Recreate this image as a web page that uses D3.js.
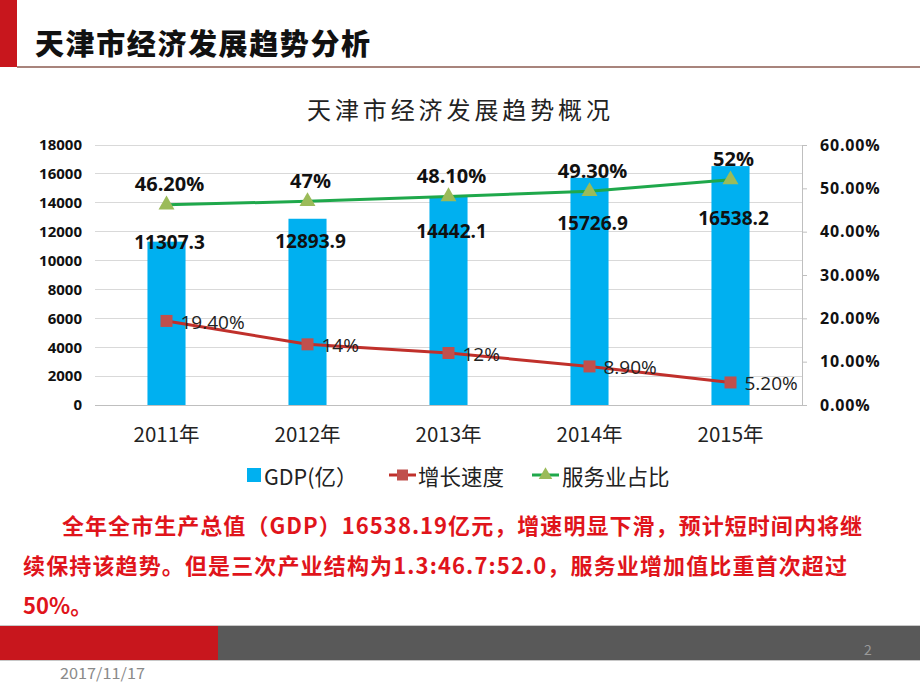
<!DOCTYPE html>
<html><head><meta charset="utf-8">
<script src="https://cdn.jsdelivr.net/npm/d3@7"></script>
<style>body{margin:0;background:#fff}svg{display:block}</style>
</head><body><svg id="c" width="920" height="690"></svg>
<script>
const categories = ["2011年","2012年","2013年","2014年","2015年"];
const gdp = [11307.3, 12893.9, 14442.1, 15726.9, 16538.2];
const gdpLabels = ["11307.3","12893.9","14442.1","15726.9","16538.2"];
const growth = [19.4, 14, 12, 8.9, 5.2];
const growthLabels = ["19.40%","14%","12%","8.90%","5.20%"];
const service = [46.2, 47, 48.1, 49.3, 52];
const serviceLabels = ["46.20%","47%","48.10%","49.30%","52%"];
const leftTicks = [0,2000,4000,6000,8000,10000,12000,14000,16000,18000];
const rightTicks = [0,10,20,30,40,50,60];
const seriesNames = ["GDP(亿）","增长速度","服务业占比"];
const pageTitle = "天津市经济发展趋势分析";
const chartTitle = "天津市经济发展趋势概况";
const para = ["全年全市生产总值（GDP）16538.19亿元，增速明显下滑，预计短时间内将继",
              "续保持该趋势。但是三次产业结构为1.3:46.7:52.0，服务业增加值比重首次超过",
              "50%。"];
const dateText = "2017/11/17", pageNo = "2";

// layout constants (not data)
const gdpLabelOffset = [0, 22, 35, 45, 52];
const CJK = "'Noto Sans CJK SC','Noto Sans',sans-serif";
const NUM = "'Open Sans','Noto Sans',sans-serif";

const svg = d3.select("#c");
// header
svg.append("rect").attr("x",0).attr("y",0).attr("width",17).attr("height",67).attr("fill","#c8161d");
svg.append("rect").attr("x",17).attr("y",66).attr("width",903).attr("height",2).attr("fill","#a8847c");
svg.append("text").attr("x",35).attr("y",42).attr("dominant-baseline","central")
  .attr("font-family",CJK).attr("font-weight",900).attr("font-size",29)
  .attr("textLength",335).attr("lengthAdjust","spacing").attr("fill","#111").text(pageTitle);
svg.append("text").attr("x",307).attr("y",108).attr("dominant-baseline","central")
  .attr("font-family",CJK).attr("font-weight",400).attr("font-size",24)
  .attr("textLength",303).attr("lengthAdjust","spacing").attr("fill","#222").text(chartTitle);

const x = d3.scaleBand().domain(categories).range([96,801]).paddingInner(0.73).paddingOuter(0.365);
const xc = d => x(d) + x.bandwidth()/2;
const yL = d3.scaleLinear().domain([0,18000]).range([405,145]);
const yR = d3.scaleLinear().domain([0,60]).range([405,145]);

// gridlines
svg.append("g").selectAll("line").data(leftTicks).join("line")
  .attr("x1",95).attr("x2",802).attr("y1",d=>yL(d)).attr("y2",d=>yL(d))
  .attr("stroke",d=>d===0?"#bfbfbf":"#d9d9d9").attr("stroke-width",1).attr("shape-rendering","crispEdges");

// left axis
const gL = svg.append("g").attr("transform","translate(82,0)")
  .call(d3.axisLeft(yL).tickValues(leftTicks).tickSize(0).tickPadding(0).tickFormat(d3.format("d")));
gL.select(".domain").remove();
gL.selectAll("text").attr("font-family",NUM).attr("font-weight",700).attr("font-size",15).attr("fill","#111");

// right axis
const gR = svg.append("g").attr("transform","translate(802,0)")
  .call(d3.axisRight(yR).tickValues(rightTicks).tickSizeInner(5).tickSizeOuter(0).tickPadding(13).tickFormat(d=>d.toFixed(2)+"%"));
gR.select(".domain").attr("stroke","#bfbfbf");
gR.selectAll("line").attr("stroke","#bfbfbf");
gR.selectAll("text").attr("font-family",NUM).attr("font-weight",700).attr("font-size",16).attr("letter-spacing",0.8).attr("fill","#111");

// x axis labels
const gX = svg.append("g").attr("transform","translate(0,405)")
  .call(d3.axisBottom(x).tickSize(0).tickPadding(22));
gX.select(".domain").remove();
gX.selectAll("text").attr("font-family",CJK).attr("font-size",20.5).attr("fill","#222");

// bars
svg.append("g").selectAll("rect").data(gdp).join("rect")
  .attr("x",(d,i)=>x(categories[i])).attr("width",x.bandwidth())
  .attr("y",d=>yL(d)).attr("height",d=>yL(0)-yL(d)).attr("fill","#00b0f0");

// lines
const lineG = d3.line().x((d,i)=>xc(categories[i])).y(d=>yR(d));
svg.append("path").datum(growth).attr("d",lineG).attr("fill","none").attr("stroke","#c0302b").attr("stroke-width",3);
svg.append("path").datum(service).attr("d",lineG).attr("fill","none").attr("stroke","#1fa84b").attr("stroke-width",3);

// markers
svg.append("g").selectAll("rect").data(growth).join("rect")
  .attr("x",(d,i)=>xc(categories[i])-6).attr("y",d=>yR(d)-6).attr("width",12).attr("height",12).attr("fill","#c0504d");
const tri = d3.symbol().type(d3.symbolTriangle).size(110);
svg.append("g").selectAll("path").data(service).join("path")
  .attr("transform",(d,i)=>`translate(${xc(categories[i])},${yR(d)})`).attr("d",tri).attr("fill","#9bbb59");

// labels
svg.append("g").selectAll("text").data(gdp).join("text")
  .attr("x",(d,i)=>xc(categories[i])+3).attr("y",(d,i)=>yL(d)+gdpLabelOffset[i])
  .attr("text-anchor","middle").attr("dominant-baseline","central")
  .attr("font-family",NUM).attr("font-weight",700).attr("font-size",19).attr("fill","#111")
  .text((d,i)=>gdpLabels[i]);
svg.append("g").selectAll("text").data(service).join("text")
  .attr("x",(d,i)=>xc(categories[i])+3).attr("y",d=>yR(d)-21)
  .attr("text-anchor","middle").attr("dominant-baseline","central")
  .attr("font-family",NUM).attr("font-weight",700).attr("font-size",20).attr("fill","#111")
  .text((d,i)=>serviceLabels[i]);
svg.append("g").selectAll("text").data(growth).join("text")
  .attr("x",(d,i)=>xc(categories[i])+14).attr("y",d=>yR(d)+1)
  .attr("dominant-baseline","central")
  .attr("font-family",NUM).attr("font-weight",400).attr("font-size",19).attr("fill","#222")
  .text((d,i)=>growthLabels[i]);

// legend
const leg = svg.append("g").attr("transform","translate(0,475)");
leg.append("rect").attr("x",247).attr("y",-7).attr("width",14).attr("height",14).attr("fill","#00b0f0");
leg.append("text").attr("x",264).attr("y",0).attr("dominant-baseline","central").attr("font-family",CJK).attr("font-size",21.5).attr("fill","#222").text(seriesNames[0]);
leg.append("line").attr("x1",389).attr("x2",416).attr("y1",0).attr("y2",0).attr("stroke","#c0302b").attr("stroke-width",3);
leg.append("rect").attr("x",397).attr("y",-5.5).attr("width",11).attr("height",11).attr("fill","#c0504d");
leg.append("text").attr("x",418).attr("y",0).attr("dominant-baseline","central").attr("font-family",CJK).attr("font-size",21.5).attr("fill","#222").text(seriesNames[1]);
leg.append("line").attr("x1",532).attr("x2",559).attr("y1",0).attr("y2",0).attr("stroke","#1fa84b").attr("stroke-width",3);
leg.append("path").attr("transform","translate(545.5,0)").attr("d",d3.symbol().type(d3.symbolTriangle).size(80)).attr("fill","#9bbb59");
leg.append("text").attr("x",562).attr("y",0).attr("dominant-baseline","central").attr("font-family",CJK).attr("font-size",21.5).attr("fill","#222").text(seriesNames[2]);

// paragraph
const pStarts = [62,23,23], pEnds = [862,847,null], pY = [524,564,604];
para.forEach((t,i)=>{
  const tx = svg.append("text").attr("x",pStarts[i]).attr("y",pY[i]).attr("dominant-baseline","central")
    .attr("font-family",CJK).attr("font-weight",700).attr("font-size",22).attr("fill","#e0141b").text(t);
  if (pEnds[i]) tx.attr("textLength",pEnds[i]-pStarts[i]).attr("lengthAdjust","spacing");
});

// footer band
svg.append("rect").attr("x",0).attr("y",625).attr("width",920).attr("height",1).attr("fill","#c8c8c8");
svg.append("rect").attr("x",0).attr("y",626).attr("width",920).attr("height",34).attr("fill","#595959");
svg.append("rect").attr("x",0).attr("y",626).attr("width",218).attr("height",34).attr("fill","#c8161d");
svg.append("rect").attr("x",0).attr("y",660).attr("width",920).attr("height",1).attr("fill","#c8c8c8");
svg.append("text").attr("x",868).attr("y",655).attr("text-anchor","middle").attr("font-family",CJK).attr("font-size",14).attr("fill","#9a9a9a").text(pageNo);
svg.append("text").attr("x",60).attr("y",679).attr("font-family",CJK).attr("font-size",15).attr("fill","#8a8a8a")
  .attr("textLength",85).attr("lengthAdjust","spacingAndGlyphs").text(dateText);
</script></body></html>
